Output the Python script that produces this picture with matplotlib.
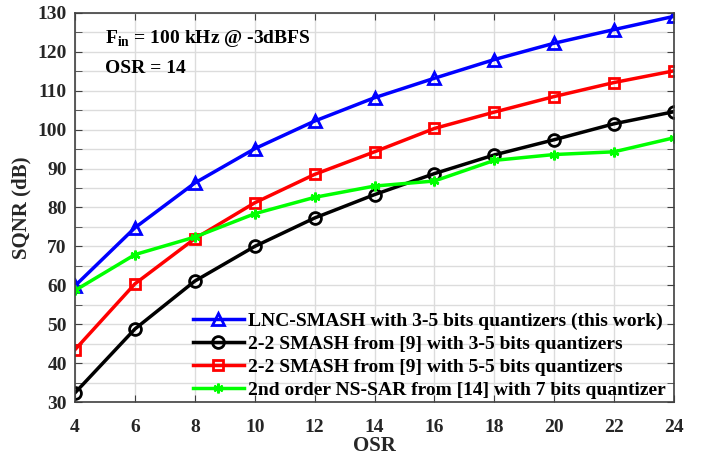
import matplotlib.pyplot as plt
import numpy as np

osr = [4, 6, 8, 10, 12, 14, 16, 18, 20, 22, 24]

# SQNR (dB)
lnc_smash = [59.9, 74.8, 86.3, 95.1, 102.2, 108.2, 113.2, 118.0, 122.2, 125.7, 129.1]
smash_35 = [32.4, 48.8, 61.1, 70.0, 77.3, 83.3, 88.7, 93.5, 97.4, 101.5, 104.6]
smash_55 = [43.5, 60.4, 72.0, 81.2, 88.5, 94.3, 100.3, 104.5, 108.5, 112.1, 115.1]
ns_sar = [58.7, 67.9, 72.4, 78.4, 82.6, 85.5, 86.8, 92.1, 93.6, 94.3, 97.9]

labels = ['LNC-SMASH with 3-5 bits quantizers (this work)',
          '2-2 SMASH from [9] with 3-5 bits quantizers',
          '2-2 SMASH from [9] with 5-5 bits quantizers',
          '2nd order NS-SAR from [14] with 7 bits quantizer']

plt.rcParams['font.family'] = ['Liberation Serif', 'DejaVu Serif']
plt.rcParams['font.weight'] = 'bold'
plt.rcParams['mathtext.fontset'] = 'custom'
plt.rcParams['mathtext.bf'] = 'Liberation Serif:bold'
plt.rcParams['mathtext.rm'] = 'Liberation Serif:bold'

fig = plt.figure(figsize=(7.02, 4.59), dpi=100)
ax = fig.add_axes([0.107, 0.124, 0.853, 0.848])

ax.plot(osr, lnc_smash, color='#0000ff', lw=2.5, marker='^', ms=9,
        mfc='none', mew=2, label=labels[0])
ax.plot(osr, smash_35, color='black', lw=2.5, marker='o', ms=8.5,
        mfc='none', mew=2, label=labels[1])
ax.plot(osr, smash_55, color='#ff0000', lw=2.5, marker='s', ms=7.5,
        mfc='none', mew=2, label=labels[2])
ax.plot(osr, ns_sar, color='#00ff00', lw=2.5, marker=(6, 2, 0), ms=7,
        mew=1.8, label=labels[3])

ax.set_xlim(4, 24)
ax.set_ylim(30, 130)
ax.set_xticks(np.arange(4, 25, 2))
ax.set_yticks(np.arange(30, 131, 10))
ax.set_yticks(np.arange(35, 130, 10), minor=True)
ax.grid(True, which='major', color='#dcdcdc', lw=1)
ax.grid(True, which='minor', axis='y', color='#dcdcdc', lw=1)
ax.tick_params(axis='x', direction='in', top=True, labelsize=14, length=5,
               color='#404040', pad=12)
ax.tick_params(axis='y', direction='in', right=True, labelsize=14, length=5,
               color='#404040', pad=6)
ax.tick_params(which='minor', direction='in', right=True, length=5, color='#404040')
for lab in ax.get_xticklabels() + ax.get_yticklabels():
    lab.set_fontweight('bold')
    lab.set_color('#262626')
for sp in ax.spines.values():
    sp.set_color('#404040')
    sp.set_linewidth(1.2)

ax.set_xlabel('OSR', fontsize=15, fontweight='bold', color='#262626', labelpad=0)
ax.set_ylabel('SQNR (dB)', fontsize=15, fontweight='bold', color='#262626', labelpad=4)

ax.text(5.0, 123.5, r'F$_{\mathrm{in}}$ = 100 kHz @ -3dBFS', fontsize=14,
        fontweight='bold', va='center')
ax.text(5.0, 115.8, 'OSR = 14', fontsize=14, fontweight='bold', va='center')

leg = ax.legend(loc='lower right', frameon=False, fontsize=14, handlelength=2.6,
                borderaxespad=0.0, labelspacing=0.28, handletextpad=0.25,
                bbox_to_anchor=(1.0, -0.012))
for t in leg.get_texts():
    t.set_fontweight('bold')

fig.savefig('out.png', dpi=100)
